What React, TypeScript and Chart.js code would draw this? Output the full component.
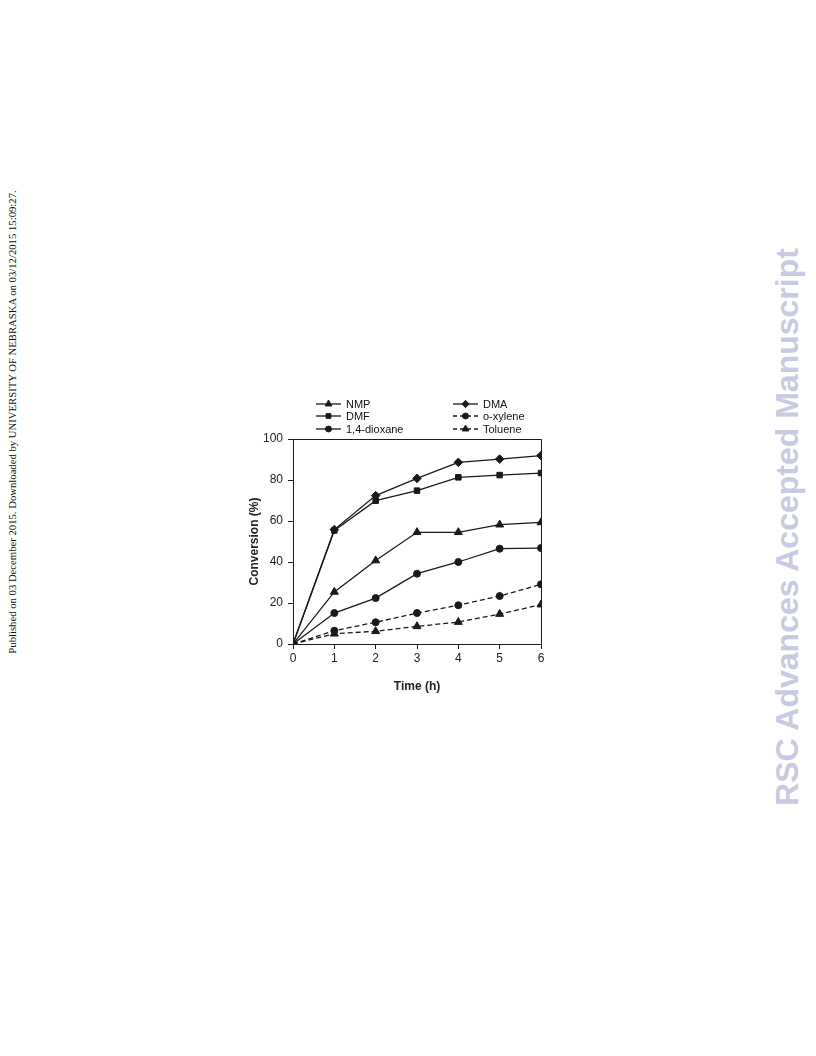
import React, { useEffect, useRef } from "react";
import { Chart, registerables } from "chart.js";

Chart.register(...registerables);

const timeLabels = [0, 1, 2, 3, 4, 5, 6];
const yTicks = [0, 20, 40, 60, 80, 100];

const nmp = [0, 25.4, 40.7, 54.5, 54.5, 58.2, 59.3];
const dmf = [0, 55.4, 69.9, 74.8, 81.3, 82.4, 83.4];
const dioxane = [0, 15.1, 22.4, 34.3, 40.0, 46.5, 46.8];
const dma = [0, 55.8, 72.4, 80.8, 88.6, 90.2, 91.9];
const oxylene = [0, 6.5, 10.6, 15.1, 18.9, 23.4, 29.1];
const toluene = [0, 5.0, 6.2, 8.6, 10.7, 14.6, 19.2];

const seriesNames = ["NMP", "DMF", "1,4-dioxane", "DMA", "o-xylene", "Toluene"];

const INK = "#1a1a1a";

function ds(label: string, values: number[], style: string, radius: number, dashed: boolean) {
  return {
    label,
    data: values.map((v, i) => ({ x: timeLabels[i], y: v })),
    borderColor: INK,
    backgroundColor: INK,
    borderWidth: 1.3,
    borderDash: dashed ? [5, 3] : [],
    pointStyle: style,
    pointRadius: radius,
    pointBackgroundColor: INK,
    pointBorderColor: INK,
    pointBorderWidth: 1,
    tension: 0,
    fill: false,
  };
}

function drawPoint(ctx: CanvasRenderingContext2D, style: string, r: number, x: number, y: number) {
  ctx.beginPath();
  if (style === "circle") {
    ctx.arc(x, y, r, 0, Math.PI * 2);
  } else if (style === "rect") {
    const s = r * Math.SQRT1_2;
    ctx.rect(x - s, y - s, 2 * s, 2 * s);
  } else if (style === "rectRot") {
    ctx.moveTo(x, y - r);
    ctx.lineTo(x + r, y);
    ctx.lineTo(x, y + r);
    ctx.lineTo(x - r, y);
    ctx.closePath();
  } else if (style === "triangle") {
    ctx.moveTo(x, y - r);
    ctx.lineTo(x + r * 0.866, y + r * 0.5);
    ctx.lineTo(x - r * 0.866, y + r * 0.5);
    ctx.closePath();
  }
  ctx.fill();
  ctx.stroke();
}

const legendPlugin = {
  id: "customLegendFrame",
  afterDraw(chart: any) {
    const ctx = chart.ctx;
    const a = chart.chartArea;
    ctx.save();
    ctx.strokeStyle = INK;
    ctx.lineWidth = 1;
    ctx.setLineDash([]);
    ctx.beginPath();
    ctx.moveTo(a.left, a.top + 0.5);
    ctx.lineTo(a.right + 0.5, a.top + 0.5);
    ctx.lineTo(a.right + 0.5, a.bottom);
    ctx.stroke();
    ctx.restore();

    const cols = [a.left + 23, a.left + 160];
    const rows = [a.top - 35, a.top - 23, a.top - 10];
    chart.data.datasets.forEach((d: any, i: number) => {
      const col = cols[Math.floor(i / 3)];
      const y = rows[i % 3];
      ctx.save();
      ctx.strokeStyle = INK;
      ctx.lineWidth = 1.3;
      ctx.setLineDash(d.borderDash && d.borderDash.length ? [4, 3] : []);
      ctx.beginPath();
      ctx.moveTo(col, y);
      ctx.lineTo(col + 25, y);
      ctx.stroke();
      ctx.setLineDash([]);
      ctx.fillStyle = INK;
      ctx.strokeStyle = INK;
      ctx.lineWidth = 1;
      drawPoint(ctx, d.pointStyle, d.pointRadius * 0.85, col + 12.5, y);
      ctx.fillStyle = "#111";
      ctx.font = "11px 'Liberation Sans', Arial, sans-serif";
      ctx.textBaseline = "middle";
      ctx.textAlign = "left";
      ctx.fillText(d.label, col + 30, y + 0.5);
      ctx.restore();
    });
  },
};

function ConversionChart() {
  const ref = useRef<HTMLCanvasElement | null>(null);
  useEffect(() => {
    if (!ref.current) return;
    const chart = new Chart(ref.current, {
      type: "line",
      data: {
        datasets: [
          ds(seriesNames[0], nmp, "triangle", 4.6, false),
          ds(seriesNames[1], dmf, "rect", 3.9, false),
          ds(seriesNames[2], dioxane, "circle", 3.5, false),
          ds(seriesNames[3], dma, "rectRot", 4.3, false),
          ds(seriesNames[4], oxylene, "circle", 3.5, true),
          ds(seriesNames[5], toluene, "triangle", 4.6, true),
        ] as any,
      },
      options: {
        animation: false,
        responsive: false,
        maintainAspectRatio: false,
        layout: { padding: { top: 49, right: 15, left: 0, bottom: 6 } },
        plugins: {
          legend: { display: false },
          tooltip: { enabled: false },
        },
        scales: {
          x: {
            type: "linear",
            min: 0,
            max: 6,
            afterFit(scale: any) {
              scale.height = 50;
            },
            afterBuildTicks(scale: any) {
              scale.ticks = timeLabels.map((v) => ({ value: v }));
            },
            grid: {
              display: true,
              drawOnChartArea: false,
              drawTicks: true,
              tickLength: 5,
              color: INK,
            },
            border: { display: true, color: INK, width: 1 },
            ticks: {
              color: "#222",
              padding: 2,
              font: { family: "'Liberation Sans', Arial, sans-serif", size: 12 },
              maxRotation: 0,
            },
            title: {
              display: true,
              text: "Time (h)",
              color: "#222",
              padding: { top: 4, bottom: 0 },
              font: { family: "'Liberation Sans', Arial, sans-serif", size: 12, weight: "bold" },
            },
          },
          y: {
            type: "linear",
            min: 0,
            max: 100,
            afterFit(scale: any) {
              scale.width = 46;
            },
            afterBuildTicks(scale: any) {
              scale.ticks = yTicks.map((v) => ({ value: v }));
            },
            grid: {
              display: true,
              drawOnChartArea: false,
              drawTicks: true,
              tickLength: 5,
              color: INK,
            },
            border: { display: true, color: INK, width: 1 },
            ticks: {
              color: "#222",
              padding: 5,
              font: { family: "'Liberation Sans', Arial, sans-serif", size: 12 },
            },
            title: {
              display: true,
              text: "Conversion (%)",
              color: "#222",
              padding: { top: 0, bottom: 4 },
              font: { family: "'Liberation Sans', Arial, sans-serif", size: 12, weight: "bold" },
            },
          },
        },
      } as any,
      plugins: [legendPlugin],
    });
    return () => chart.destroy();
  }, []);
  return (
    <canvas
      ref={ref}
      width={309}
      height={310}
      style={{ position: "absolute", left: 247, top: 390, width: 309, height: 310 }}
    />
  );
}

export default function App() {
  useEffect(() => {
    document.body.style.margin = "0";
    document.body.style.background = "#fff";
  }, []);
  return (
    <div style={{ position: "relative", width: 816, height: 1056, background: "#fff", overflow: "hidden" }}>
      <div
        style={{
          position: "absolute",
          left: 12,
          top: 422,
          transform: "translate(-50%, -50%) rotate(-90deg)",
          whiteSpace: "nowrap",
          fontFamily: "'Liberation Serif', 'Times New Roman', serif",
          fontSize: 10.7,
          color: "#111",
        }}
      >
        Published on 03 December 2015. Downloaded by UNIVERSITY OF NEBRASKA on 03/12/2015 15:09:27.
      </div>
      <div
        style={{
          position: "absolute",
          left: 787,
          top: 527,
          transform: "translate(-50%, -50%) rotate(-90deg)",
          whiteSpace: "nowrap",
          fontFamily: "'Liberation Sans', Arial, sans-serif",
          fontWeight: "bold",
          fontSize: 32,
          color: "#c9c9e2",
        }}
      >
        RSC Advances Accepted Manuscript
      </div>
      <ConversionChart />
    </div>
  );
}
